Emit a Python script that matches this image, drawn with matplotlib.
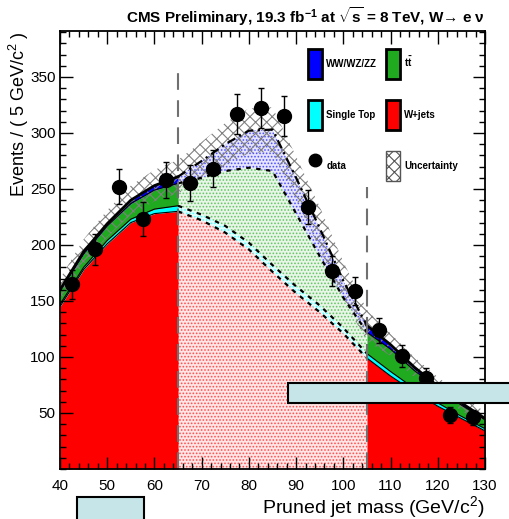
import numpy as np
import matplotlib.pyplot as plt
from matplotlib.patches import Patch, Rectangle
from matplotlib.lines import Line2D
from matplotlib.colors import to_rgba

plt.rcParams['font.family'] = ['Liberation Sans', 'DejaVu Sans']
plt.rcParams['mathtext.fontset'] = 'custom'
plt.rcParams['mathtext.rm'] = 'Liberation Sans'
plt.rcParams['mathtext.bf'] = 'Liberation Sans:bold'
plt.rcParams['mathtext.it'] = 'Liberation Sans:italic'
plt.rcParams['hatch.linewidth'] = 0.8

# background model, sampled every 5 GeV
mass = [40, 45, 50, 55, 60, 65, 70, 75, 80, 85, 90, 95, 100, 105, 110, 115, 120, 125, 130]
wjets = [145, 178, 201, 220, 228, 230, 222, 211, 196, 176, 157, 140, 121, 99, 83, 69, 56, 45, 34]
single_top = [2, 2, 3, 3, 4, 5, 5, 6, 6, 6, 6, 6, 5, 4, 4, 3, 3, 2, 2]
ttbar = [12, 12, 13, 14, 17, 20, 33, 49, 67, 84, 65, 44, 27, 19, 20, 16, 13, 10, 8]
diboson = [1, 2, 2, 3, 4, 6, 15, 24, 33, 37, 32, 25, 15, 6, 4, 3, 2, 2, 1]
uncert = [10, 11, 12, 13, 14, 15, 17, 19, 20, 20, 19, 19, 17, 14, 10, 9, 8, 7, 6]

# data (bin centres)
data_x = [42.5, 47.5, 52.5, 57.5, 62.5, 67.5, 72.5, 77.5, 82.5, 87.5,
          92.5, 97.5, 102.5, 107.5, 112.5, 117.5, 122.5, 127.5]
data_y = [165, 196, 252, 223, 258, 255, 268, 317, 322, 315,
          234, 177, 159, 124, 101, 81, 48, 46]

m = np.array(mass, dtype=float)
b1 = np.array(wjets, dtype=float)
b2 = b1 + np.array(single_top)
b3 = b2 + np.array(ttbar)
b4 = b3 + np.array(diboson)
lowers = [np.zeros_like(b1), b1, b2, b3]
uppers = [b1, b2, b3, b4]
colors = ['#ff0000', '#00ffff', '#1faa1f', '#0000ff']

fig = plt.figure(figsize=(5.1, 5.19), dpi=100)
ax = fig.add_axes([60/510, 50/519, 425/510, 438/519])

# sidebands: solid stack
for sl in (slice(0, 6), slice(13, 19)):
    for lo, up, c in zip(lowers, uppers, colors):
        ax.fill_between(m[sl], lo[sl], up[sl], color=c, lw=0)
    for up in uppers[:3]:
        ax.plot(m[sl], up[sl], color='black', lw=0.8)
    ax.plot(m[sl], b4[sl], color='black', lw=2)

# signal region: dotted, lighter
sl = slice(5, 14)
for lo, up, c in zip(lowers, uppers, colors):
    ax.fill_between(m[sl], lo[sl], up[sl], facecolor=to_rgba(c, 0.1),
                    edgecolor=to_rgba(c, 0.6), hatch='.....', lw=0)
for up in uppers[:3]:
    ax.plot(m[sl], up[sl], color='black', lw=1.6, ls=(0, (2, 2.5)))
ax.plot(m[sl], b4[sl], color='black', lw=1.6, ls=(0, (4, 2, 1, 2)))

# uncertainty band
tot = b4
unc = np.array(uncert, dtype=float)
ax.fill_between(m, tot - unc, tot + unc, facecolor='none', edgecolor='#808080',
                hatch='xxx', lw=0)

# signal region boundaries
ax.plot([65, 65], [0, 358], color='#707070', lw=1.5, ls=(0, (8, 5)))
ax.plot([105, 105], [0, 252], color='#707070', lw=1.5, ls=(0, (8, 5)))

ax.errorbar(data_x, data_y, yerr=np.sqrt(data_y), fmt='o', color='black',
            ms=10, capsize=2.5, elinewidth=1, zorder=10)

ax.set_xlim(40, 130)
ax.set_ylim(0, 391)
ax.set_xticks(range(40, 131, 10))
ax.set_xticks(range(40, 131, 2), minor=True)
ax.set_yticks(range(50, 351, 50))
ax.set_yticks(range(0, 391, 10), minor=True)
ax.tick_params(which='both', direction='in', top=True, right=True, labelsize=11)
ax.tick_params(which='major', length=9, width=1)
ax.tick_params(which='minor', length=4.5, width=1)
ax.tick_params(axis='x', pad=7)
ax.tick_params(axis='y', pad=3)
for s in ax.spines.values():
    s.set_linewidth(1.3)

ax.set_ylabel('Events / ( 5 GeV/c$^{2}$ )', fontsize=13, loc='top')
ax.yaxis.set_label_coords(-0.068, 1.0)
ax.set_xlabel('Pruned jet mass (GeV/c$^{2}$)', fontsize=14, loc='right')
ax.xaxis.set_label_coords(1.0, -0.058)

ax.text(1.0, 1.006, r'CMS Preliminary, 19.3 fb$^{\mathbf{-1}}$ at $\sqrt{\mathbf{s}}$ = 8 TeV, W→ e ν',
        transform=ax.transAxes, ha='right', va='bottom', fontsize=11, fontweight='bold')

handles = [
    Patch(facecolor='#0000ff', edgecolor='black', lw=2),
    Patch(facecolor='#00ffff', edgecolor='black', lw=2),
    Line2D([], [], marker='o', color='black', ls='none', ms=9),
    Patch(facecolor='#1faa1f', edgecolor='black', lw=2),
    Patch(facecolor='#ff0000', edgecolor='black', lw=2),
    Patch(facecolor='white', edgecolor='#555555', hatch='xxx', lw=1),
]
labels = ['WW/WZ/ZZ', 'Single Top', 'data', r'$\mathbf{t\bar{t}}$', 'W+jets', 'Uncertainty']
ax.legend(handles, labels, ncol=2, loc='upper left', bbox_to_anchor=(0.583, 0.958),
          frameon=False, prop={'size': 7, 'weight': 'bold'}, handlelength=1.5,
          handleheight=4.3, labelspacing=2.2, columnspacing=0.9, handletextpad=0.4,
          borderpad=0, borderaxespad=0)

# overlay boxes present in the reference image
fig.add_artist(Rectangle((288/510, 1 - 403/519), 230/510, 20/519, transform=fig.transFigure,
                         facecolor='#c5e5e8', edgecolor='black', lw=1.5, clip_on=False))
fig.add_artist(Rectangle((77/510, -5/519), 67/510, 27/519, transform=fig.transFigure,
                         facecolor='#c5e5e8', edgecolor='black', lw=1.5, clip_on=False))

fig.savefig('out.png', dpi=100)
